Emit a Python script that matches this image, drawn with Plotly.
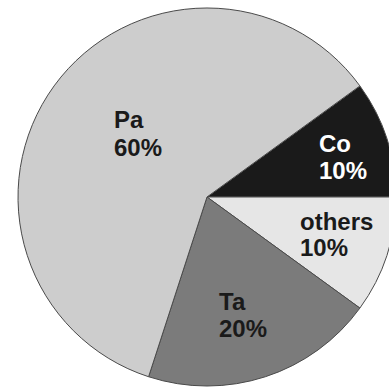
import plotly.graph_objects as go

# Share of each element, listed clockwise starting from the Co wedge
labels = ["Co", "others", "Ta", "Pa"]
values = [10, 10, 20, 60]
colors = ["#1a1a1a", "#e6e6e6", "#7b7b7b", "#cdcdcd"]
text_colors = ["white", "#1a1a1a", "#1a1a1a", "#1a1a1a"]

# Left edge and vertical centres (pixels) of the two text lines for each wedge label
label_px = {
    "Co": (318, 143, 170),
    "others": (299, 221, 248),
    "Ta": (218, 301, 328),
    "Pa": (113, 119, 147),
}

W, H = 414, 387

fig = go.Figure(
    go.Pie(
        labels=labels,
        values=values,
        sort=False,
        direction="clockwise",
        rotation=54,
        marker=dict(colors=colors, line=dict(color="#4a4a4a", width=1)),
        textinfo="none",
        hoverinfo="label+percent",
        domain=dict(x=[0, 1], y=[1 / H, 379 / H]),
        showlegend=False,
    )
)

total = sum(values)
font = dict(family="Liberation Sans, Arial, sans-serif", size=24)
for lab, val, tc in zip(labels, values, text_colors):
    px, y1, y2 = label_px[lab]
    for txt, py in ((lab, y1), (f"{round(100 * val / total)}%", y2)):
        fig.add_annotation(
            x=px / W,
            y=1 - py / H,
            xref="paper",
            yref="paper",
            xanchor="left",
            yanchor="middle",
            showarrow=False,
            borderpad=0,
            text=f"<b>{txt}</b>",
            font=dict(font, color=tc),
        )

fig.update_layout(
    width=W,
    height=H,
    margin=dict(l=0, r=0, t=0, b=0),
    paper_bgcolor="white",
    plot_bgcolor="white",
)

fig.write_html(
    "out.html",
    post_script="document.documentElement.style.overflow='hidden';document.body.style.overflow='hidden';",
)
